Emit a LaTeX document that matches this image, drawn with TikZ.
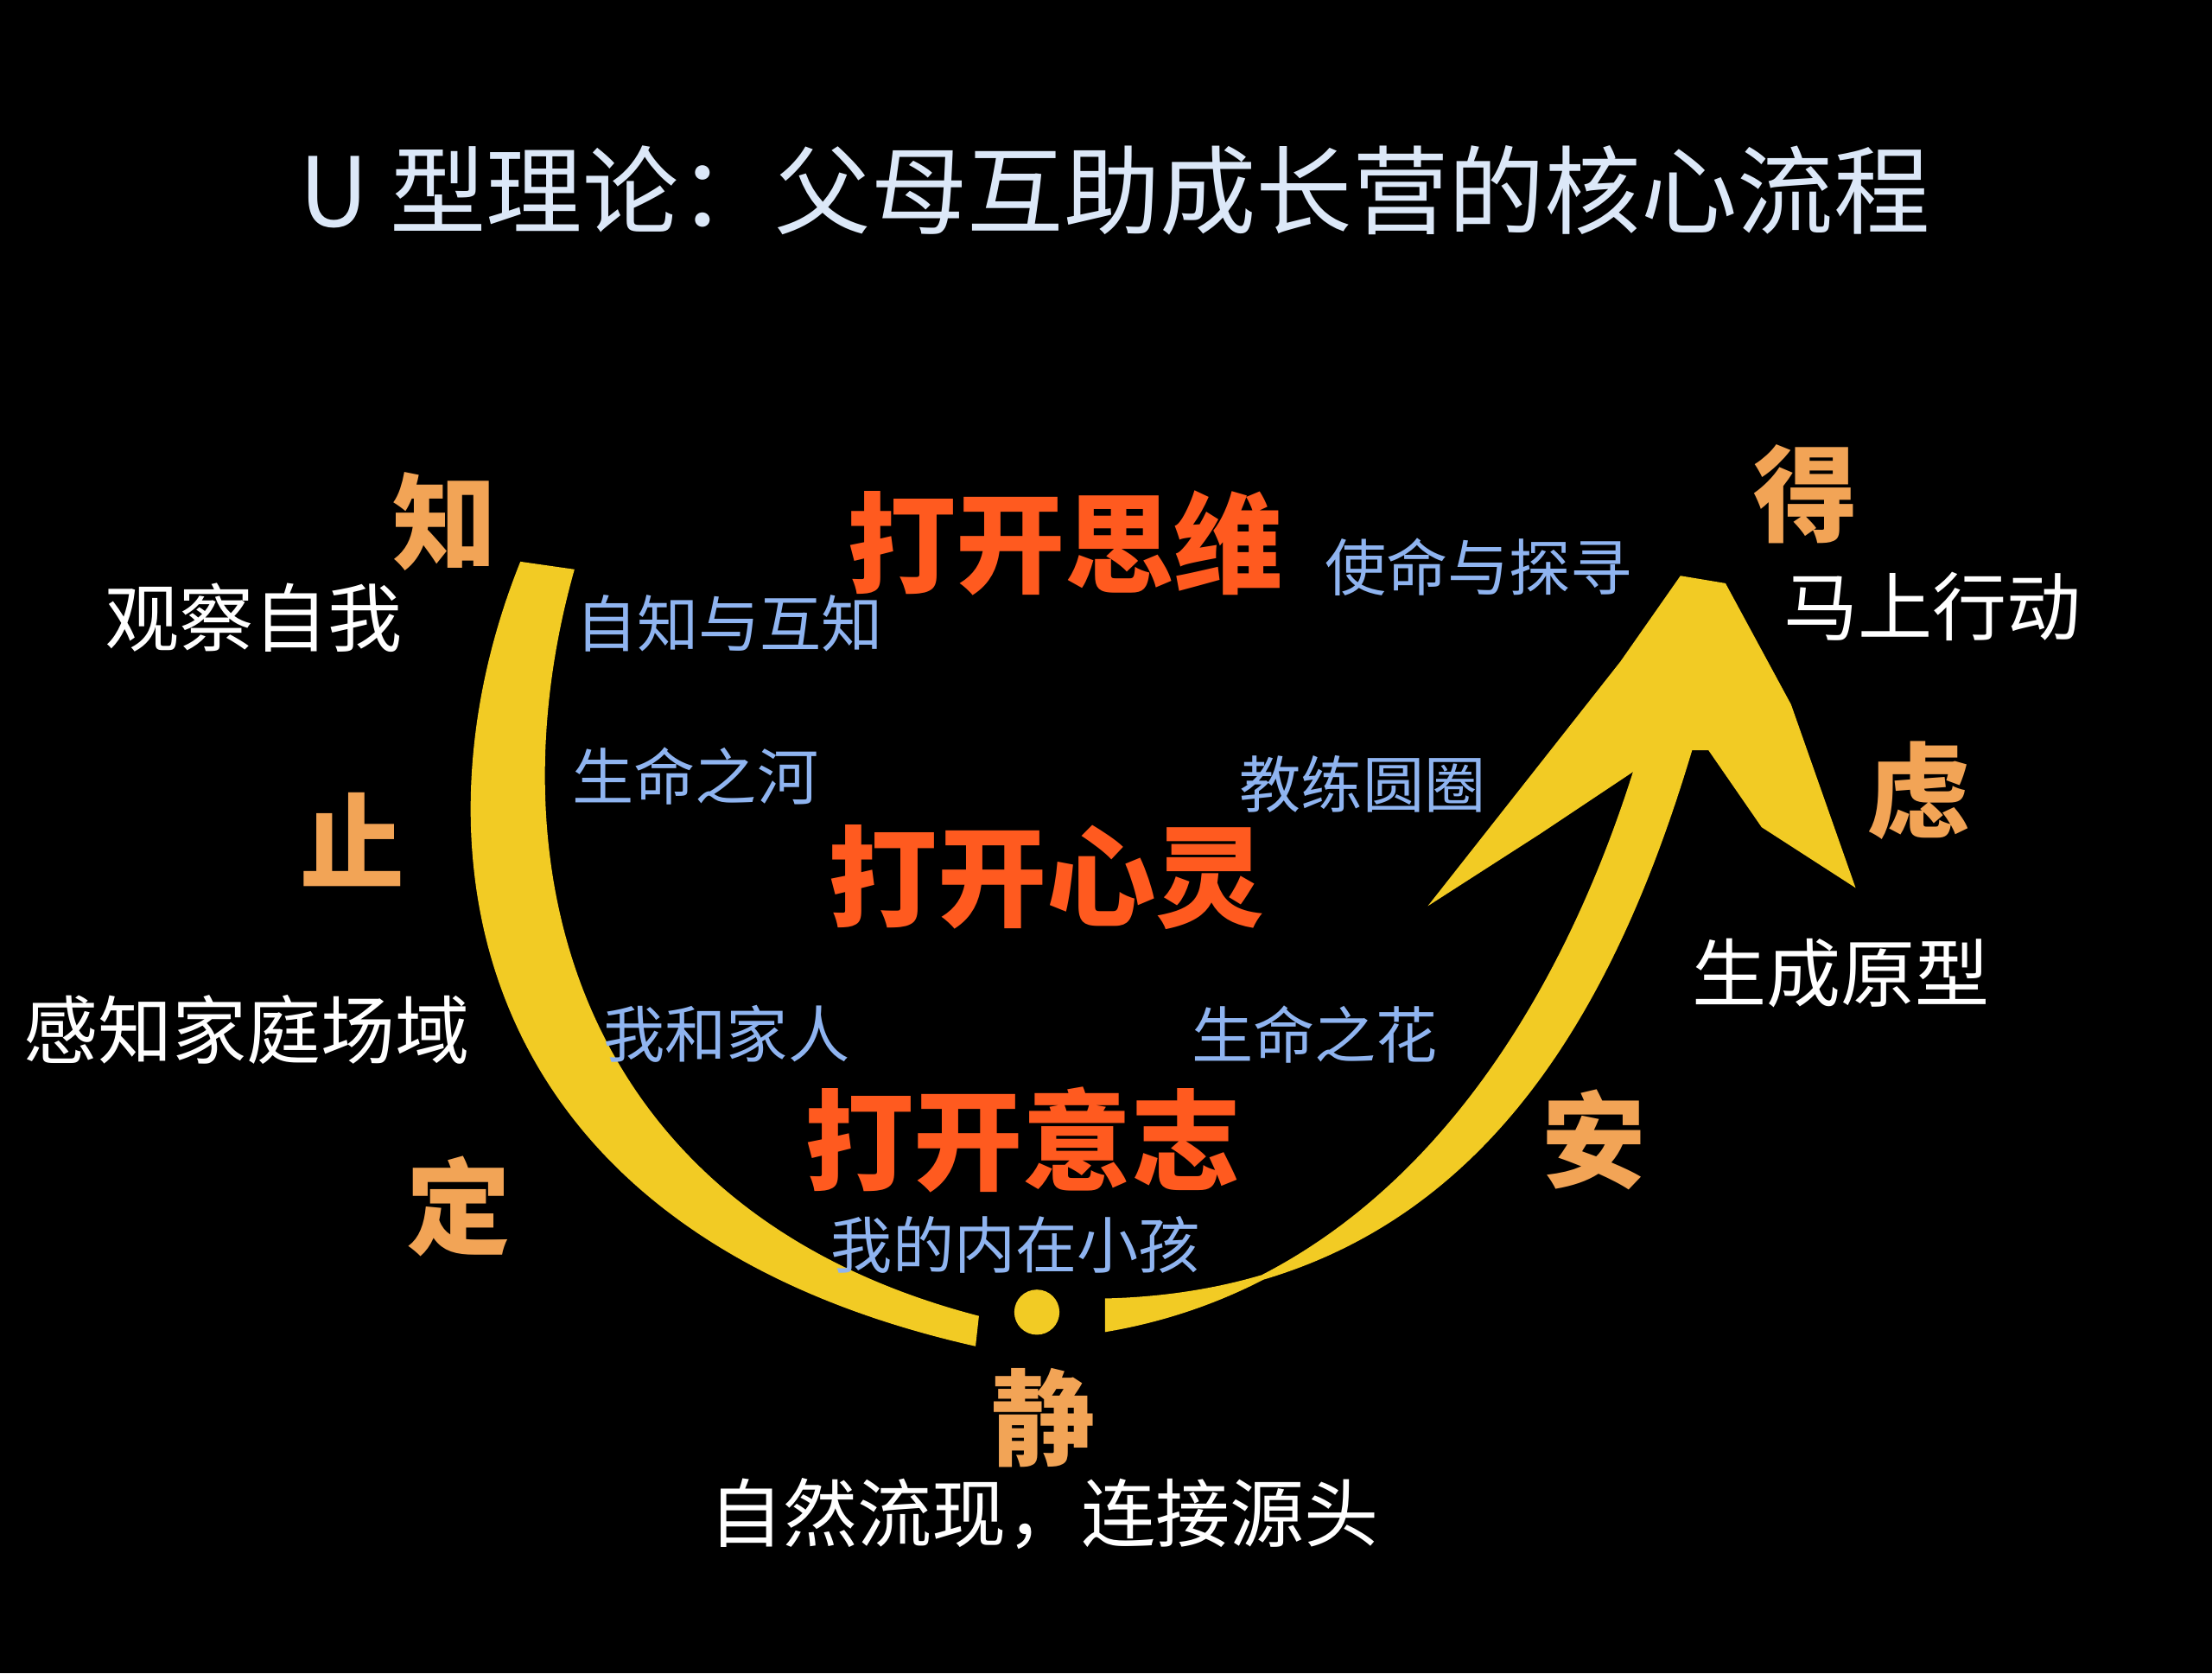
\documentclass[tikz,border=0pt]{standalone}
\usepackage{fontspec}
\setmainfont{Noto Sans CJK SC}
\begin{document}
\begin{tikzpicture}[x=0.01cm,y=-0.01cm,
  ttl/.style={text=titlec,font=\fontsize{19.4}{21}\selectfont},
  big/.style={text=redc,font=\bfseries\fontsize{22}{24}\selectfont},
  chr/.style={text=orc,font=\bfseries\fontsize{21}{23}\selectfont},
  wlab/.style={text=white,font=\fontsize{15}{17}\selectfont},
  blab/.style={text=bluec,font=\fontsize{12.4}{14}\selectfont},
  brush/.style={fill=yelc,draw=yelc,line width=1pt}]
\definecolor{titlec}{HTML}{DCE8F8}
\definecolor{redc}{HTML}{FF5A1F}
\definecolor{orc}{HTML}{F2A456}
\definecolor{bluec}{HTML}{8FB4F0}
\definecolor{yelc}{HTML}{F2CB24}
\fill[black] (0,0) rectangle (1568,1186);
\useasboundingbox (0,0) rectangle (1568,1186);
% U shape
\path[brush] (370,400) .. controls (290,600) and (330,870) .. (690,952)
  -- (692,934) .. controls (410,860) and (345,620) .. (405,405) -- cycle;
\path[brush] (785,942) .. controls (1000,905) and (1125,700) .. (1178,480)
  -- (1212,480) .. controls (1150,720) and (1040,915) .. (785,922) -- cycle;
\path[brush] (1020,635) -- (1150,470) -- (1192,410) -- (1222,415) -- (1268,500)
  -- (1312,625) -- (1250,585) -- (1212,530) -- (1180,530) -- (1090,590) -- cycle;
\fill[yelc] (735,930) circle (16);
% texts
\node[ttl] (t) at (790,135) {U 型理论：父母互助成长营的核心流程};
\node[chr] (zhi) at (315,370) {知};
\node[wlab] (a1) at (180,438) {观察自我};
\node[chr] (zh) at (250,595) {止};
\node[wlab] (a2) at (175,730) {感知家庭场域};
\node[chr] (ding) at (325,855) {定};
\node[chr] (jing) at (740,1005) {静};
\node[wlab] (a3) at (740,1073) {自然流现，连接源头};
\node[chr] (an) at (1130,808) {安};
\node[wlab] (a4) at (1305,690) {生成原型};
\node[chr] (lv) at (1360,560) {虑};
\node[chr] (de) at (1280,350) {得};
\node[wlab] (a5) at (1370,430) {马上行动};
\node[big] (b1) at (755,385) {打开思维};
\node[big] (b2) at (742,622) {打开心灵};
\node[big] (b3) at (725,808) {打开意志};
\node[blab] (c1) at (1048,402) {使命与探寻};
\node[blab] (c2) at (517,442) {自知与互知};
\node[blab] (c3) at (493,550) {生命之河};
\node[blab] (c4) at (966,556) {教练圆圈};
\node[blab] (c5) at (515,733) {我和家人};
\node[blab] (c6) at (932,733) {生命之花};
\node[blab] (c7) at (720,882) {我的内在小孩};
\end{tikzpicture}
\end{document}
